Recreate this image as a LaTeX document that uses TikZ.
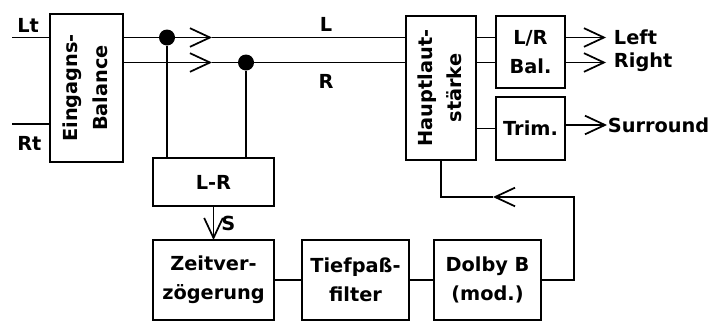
\documentclass[tikz,border=0pt]{standalone}
\usepackage{fontspec}
\setmainfont{DejaVu Sans}
\usetikzlibrary{positioning, arrows.meta, calc}

\newcommand{\hochtext}[2]{\rotatebox{90}{\begin{tabular}{@{}c@{}}#1\\#2\end{tabular}}}

\begin{document}
\begin{tikzpicture}[
		x=0.75pt, y=-0.75pt,
		>={Straight Barb[length=15pt, width=14pt]},
		line width=1.3pt,
		font=\fontsize{14.5}{22}\selectfont\bfseries,
		box/.style={draw=black, fill=white, inner sep=0pt, outer sep=0pt, align=center},
		dot/.style={circle, fill=black, inner sep=0pt, minimum size=12pt},
		sig/.style={font=\fontsize{14.5}{16}\selectfont\bfseries}
		]
		\useasboundingbox (0,0) rectangle (709,322);
		
		% Block 1: Eingangs-Balance
		\node[box, minimum width=54.75pt, minimum height=111pt] (bal) at (86.5,88) {\hochtext{Eingagns-}{Balance}};
		
		% Block 2: Hauptlautstaerke und Ausgaenge
		\node[box, minimum width=52.5pt, minimum height=108pt, right=212.25pt of bal] (haupt) {\hochtext{Hauptlaut-}{stärke}};
		\node[box, minimum width=51.75pt, minimum height=54pt, right=15pt of haupt.north east, anchor=north west] (lrbal) {L/R\\Bal.};
		\node[box, minimum width=51.75pt, minimum height=47.25pt, below=6.75pt of lrbal] (trim) {Trim.};
		
		% Block 3: Surround-Zweig
		\node[box, minimum width=90.75pt, minimum height=36pt, right=22.5pt of bal.south east, anchor=north west, yshift=3pt] (lr) {L-R};
		\node[box, minimum width=90.75pt, minimum height=60pt, below=25.5pt of lr] (zeit) {Zeitver-\\zögerung};
		\node[box, minimum width=80.25pt, minimum height=60pt, right=21pt of zeit] (tief) {Tiefpaß-\\filter};
		\node[box, minimum width=80.25pt, minimum height=60pt, right=18.75pt of tief] (dolby) {Dolby B\\(mod.)};
		
		% Eingaenge
		\coordinate (ltin) at (12,37.5);
		\coordinate (rtin) at (12,124);
		\draw (ltin) -- (ltin -| bal.west);
		\draw (rtin) -- (rtin -| bal.west);
		\node[sig, above right] (lab_lt) at (ltin) {Lt};
		\node[sig, below right, yshift=-5pt] (lab_rt) at (rtin) {Rt};
		
		% Signalleitungen L und R
		\coordinate (lmid) at (212,37.5);
		\coordinate (rmid) at (212,62.5);
		\draw[->] (bal.east |- lmid) -- (lmid);
		\draw (lmid) -- (haupt.west |- lmid);
		\draw[->] (bal.east |- rmid) -- (rmid);
		\draw (rmid) -- (haupt.west |- rmid);
		\node[dot] (dotl) at (167,37.5) {};
		\node[dot] (dotr) at (246,62.5) {};
		\draw (dotl) -- (dotl |- lr.north);
		\draw (dotr) -- (dotr |- lr.north);
		\node[sig] (lab_l) at (326,24) {L};
		\node[sig] (lab_r) at (326,81) {R};
		
		% Hauptlautstaerke zu Bal. und Trim.
		\draw (haupt.east |- lmid) -- (lrbal.west |- lmid);
		\draw (haupt.east |- rmid) -- (lrbal.west |- rmid);
		\draw (haupt.east |- trim) -- (trim.west);
		
		% Ausgaenge
		\coordinate (outl) at (606,37.5);
		\coordinate (outr) at (606,62.5);
		\coordinate (outs) at (607,125);
		\draw[->] (lrbal.east |- outl) -- (outl);
		\draw[->] (lrbal.east |- outr) -- (outr);
		\draw[->] (trim.east |- outs) -- (outs);
		\node[sig, right=2pt of outl] (lab_left) {Left};
		\node[sig, right=2pt of outr] (lab_right) {Right};
		\node[sig, anchor=west, inner sep=0pt] (lab_sur) at (outs) {Surround};
		
		% S-Kette und Rueckfuehrung
		\draw[->] (lr.south) -- (zeit.north) node[sig, midway, right, xshift=2pt] {S};
		\draw (zeit) -- (tief);
		\draw (tief) -- (dolby);
		\coordinate (fb_r) at ($(dolby.east)+(33,0)$);
		\coordinate (fb_o) at ($(fb_r)+(0,-83)$);
		\coordinate (fb_m) at (493,197);
		\draw[->] (dolby.east) -- (fb_r) -- (fb_o) -- (fb_m);
		\draw (fb_m) -- (haupt.south |- fb_m) -- (haupt.south);
		
	\end{tikzpicture}
\end{document}
